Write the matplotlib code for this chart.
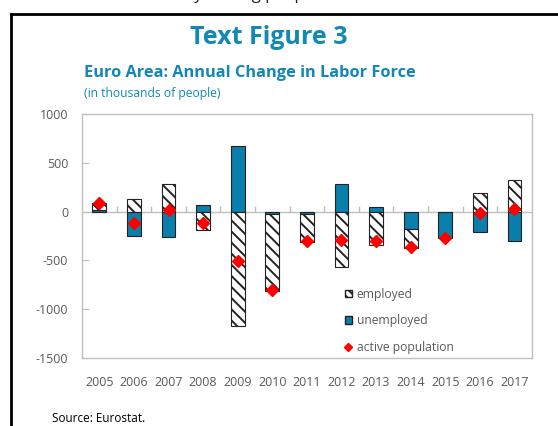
import numpy as np
import matplotlib
matplotlib.use("Agg")
import matplotlib.pyplot as plt
from matplotlib.lines import Line2D
from matplotlib.patches import Patch

plt.rcParams['font.family'] = ['Open Sans', 'DejaVu Sans']
plt.rcParams['axes.unicode_minus'] = False
plt.rcParams['hatch.linewidth'] = 1.4
plt.rcParams['hatch.color'] = '#222222'

# Data (thousands of people)
years = ['2005', '2006', '2007', '2008', '2009', '2010', '2011',
         '2012', '2013', '2014', '2015', '2016', '2017']
employed = [70, 130, 280, -188, -1177, -790, -287, -570, -341, -190, 0, 188, 324]
unemployed = [15, -250, -263, 72, 672, -20, -20, 280, 44, -181, -266, -208, -300]
active = [85, -115, 17, -113, -502, -801, -305, -292, -297, -362, -266, -17, 24]

blue = '#0B7FAB'
title_blue = '#1188B6'
gray_txt = '#595959'
axis_gray = '#BFBFBF'

fig = plt.figure(figsize=(5.58, 4.26), dpi=100)
ax = fig.add_axes([0.147, 0.1596, 0.806, 0.5728])

x = np.arange(len(years))
emp = np.array(employed)
unemp = np.array(unemployed)

# stacking: unemployed first, employed stacked beyond it when same sign
emp_bottom = np.where(np.sign(emp) == np.sign(unemp), unemp, 0)

ax.bar(x, unemp, width=0.4, color=blue, edgecolor='#222222', linewidth=0.8, zorder=2)
ax.bar(x, emp, width=0.4, bottom=emp_bottom, color='white', edgecolor='#222222',
       linewidth=0.8, hatch='\\\\\\', zorder=2)
ax.axhline(0, color=axis_gray, linewidth=1.0, zorder=1)
ax.plot(x[:-1] + 0.5, np.zeros(len(x) - 1), ls='', marker=2, ms=4,
        color=axis_gray, mew=1.0, zorder=1)
ax.plot(x, active, ls='', marker='D', ms=6.5, color='#FF0000', zorder=3)

ax.set_xlim(-0.5, len(years) - 0.5)
ax.set_ylim(-1500, 1000)
ax.set_yticks([-1500, -1000, -500, 0, 500, 1000])
ax.set_xticks(x)
ax.set_xticklabels(years)
ax.tick_params(axis='x', length=0, pad=13, labelsize=9, labelcolor=gray_txt)
ax.tick_params(axis='y', direction='in', length=5, color=axis_gray, pad=10,
               labelsize=9, labelcolor=gray_txt)
for s in ax.spines.values():
    s.set_color(axis_gray)
    s.set_linewidth(1.0)

handles = [Patch(facecolor='white', edgecolor='#222222', hatch='\\\\\\\\', label='employed'),
           Patch(facecolor=blue, edgecolor='#222222', label='unemployed'),
           Line2D([], [], ls='', marker='D', ms=4, color='#FF0000', label='active population')]
leg = ax.legend(handles=handles, loc='lower left', bbox_to_anchor=(0.56, -0.028),
                frameon=False, fontsize=8.7, labelspacing=1.12, handlelength=0.6,
                handleheight=0.6, handletextpad=0.4, labelcolor=gray_txt)

fig.text(0.482, 0.913, 'Text Figure 3', ha='center', va='center', fontsize=18,
         fontweight='bold', color=title_blue)
fig.text(0.151, 0.829, 'Euro Area: Annual Change in Labor Force', ha='left', va='center',
         fontsize=11.8, fontweight='bold', color=title_blue)
fig.text(0.151, 0.781, '(in thousands of people)', ha='left', va='center',
         fontsize=8.7, color=title_blue)
fig.text(0.093, 0.018, 'Source: Eurostat.', ha='left', va='center', fontsize=8.5,
         color='black')
# line of running text above the box, cut by the top edge
fig.text(0.27, 1.003, 'mainly among people', ha='left', va='baseline', fontsize=12,
         color='#222222')

# frame around the figure panel
fig.add_artist(Line2D([0.020, 1.0], [0.967, 0.967], color='black', lw=2.0,
                      transform=fig.transFigure))
fig.add_artist(Line2D([0.020, 0.020], [0.0, 0.967], color='black', lw=2.0,
                      transform=fig.transFigure))

fig.savefig('out.png', dpi=100)
